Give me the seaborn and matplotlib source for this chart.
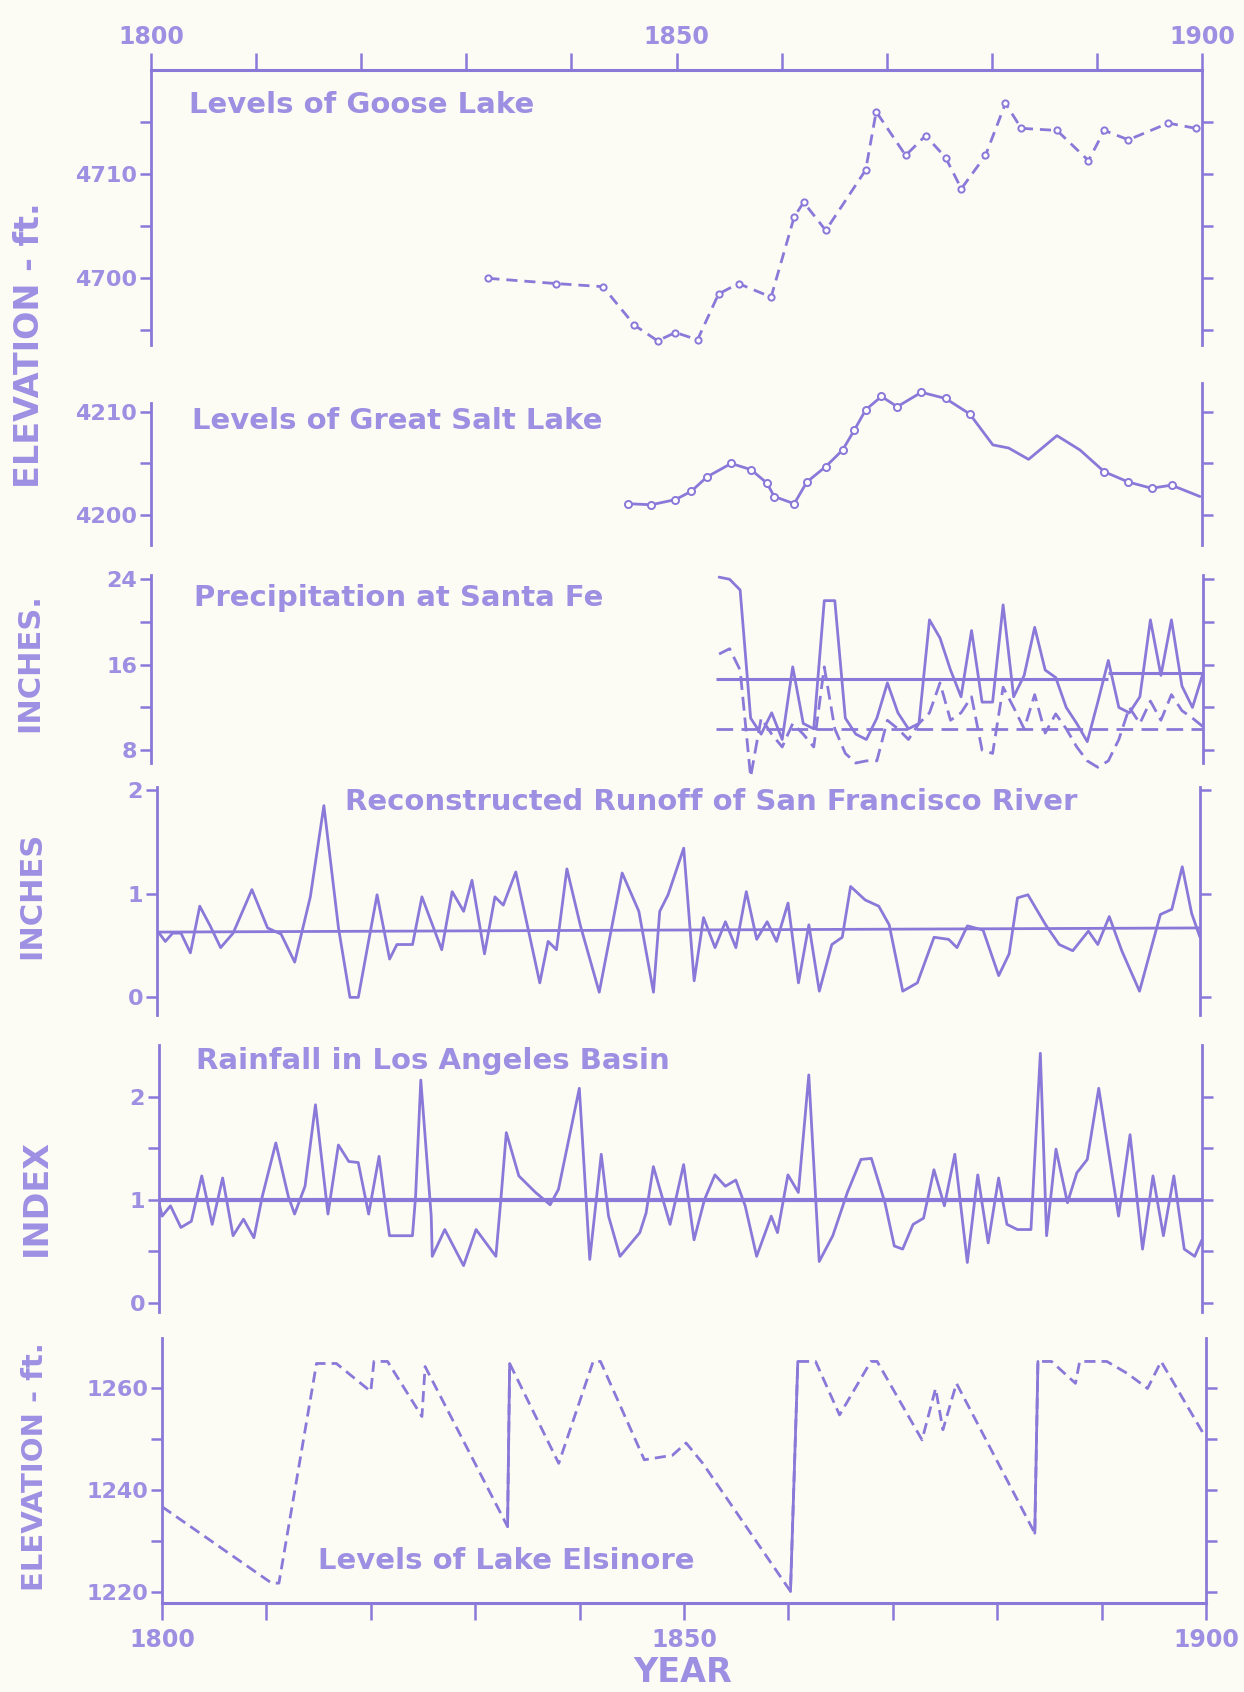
import matplotlib
matplotlib.use("Agg")
import matplotlib.pyplot as plt
import seaborn as sns

# Levels of Goose Lake (ft)
goose_years = [1832.1, 1838.5, 1843.0, 1846.0, 1848.2, 1849.9, 1852.0, 1854.0, 1855.9, 1859.0,
               1861.2, 1862.1, 1864.2, 1868.0, 1869.0, 1871.8, 1873.7, 1875.6, 1877.1, 1879.4,
               1881.3, 1882.8, 1886.2, 1889.2, 1890.7, 1893.0, 1896.8, 1899.4]
goose_levels = [4700.0, 4699.5, 4699.2, 4695.5, 4694.0, 4694.8, 4694.1, 4698.5, 4699.5, 4698.2,
                4705.9, 4707.3, 4704.6, 4710.4, 4716.0, 4711.8, 4713.7, 4711.6, 4708.6, 4711.8,
                4716.8, 4714.4, 4714.2, 4711.3, 4714.2, 4713.3, 4714.9, 4714.4]

# Levels of Great Salt Lake (ft)
gsl_years = [1845.4, 1847.6, 1849.9, 1851.4, 1852.9, 1855.2, 1857.1, 1858.6, 1859.3, 1861.2,
             1862.4, 1864.2, 1865.8, 1866.9, 1868.0, 1869.5, 1871.0, 1873.3, 1875.6, 1877.9,
             1880.1, 1881.6, 1883.5, 1886.2, 1888.4, 1890.7, 1893.0, 1895.2, 1897.1, 1899.8]
gsl_levels = [4201.1, 4201.0, 4201.5, 4202.3, 4203.7, 4205.0, 4204.4, 4203.1, 4201.8, 4201.1,
              4203.2, 4204.7, 4206.3, 4208.2, 4210.2, 4211.5, 4210.5, 4211.9, 4211.3, 4209.8,
              4206.8, 4206.5, 4205.4, 4207.7, 4206.3, 4204.2, 4203.2, 4202.6, 4202.9, 4201.8]

# Precipitation at Santa Fe (inches), two series
sf_years = list(range(1854, 1901))
sf_solid = [24.2, 24.0, 23.0, 11.0, 9.5, 11.5, 9.0, 15.8, 10.5, 10.0,
            22.0, 22.0, 11.0, 9.5, 9.0, 11.0, 14.3, 11.5, 10.0, 10.5,
            20.2, 18.5, 15.5, 13.0, 19.2, 12.5, 12.5, 21.6, 13.0, 15.0,
            19.5, 15.5, 14.8, 12.0, 10.5, 8.8, 12.5, 16.4, 12.0, 11.5,
            13.0, 20.2, 15.0, 20.2, 14.0, 12.0, 15.2]
sf_dashed = [17.0, 17.5, 15.5, 5.5, 11.0, 9.5, 8.3, 10.5, 9.5, 8.3,
             15.8, 10.0, 7.7, 6.8, 7.0, 7.0, 10.8, 10.0, 9.0, 10.5,
             11.5, 14.3, 10.8, 11.5, 13.0, 8.0, 7.7, 13.9, 12.0, 10.0,
             13.2, 9.6, 11.4, 10.0, 8.3, 7.0, 6.4, 7.0, 9.0, 12.0,
             10.5, 12.6, 10.8, 13.2, 11.7, 11.0, 10.2]
sf_mean_solid = [14.7, 15.2]
sf_mean_solid_start = [1853.7, 1891.0]
sf_mean_solid_end = [1891.0, 1900.0]
sf_mean_dashed = 10.0

# Reconstructed runoff of San Francisco River (inches)
runoff_years = [1800.2, 1800.8, 1801.5, 1802.3, 1803.2, 1804.1, 1805.1, 1806.1, 1807.3, 1809.1,
                1810.6, 1811.9, 1813.2, 1814.7, 1816.0, 1817.4, 1818.5, 1819.3, 1821.1, 1822.3,
                1823.0, 1824.5, 1825.4, 1827.3, 1828.3, 1829.4, 1830.2, 1831.4, 1832.4, 1833.2,
                1834.4, 1836.7, 1837.5, 1838.3, 1839.3, 1840.6, 1842.4, 1844.6, 1846.2, 1847.6,
                1848.2, 1849.0, 1850.5, 1851.5, 1852.4, 1853.5, 1854.5, 1855.5, 1856.5, 1857.5,
                1858.5, 1859.4, 1860.5, 1861.5, 1862.5, 1863.5, 1864.7, 1865.7, 1866.5, 1867.9,
                1869.2, 1870.2, 1871.5, 1872.9, 1874.5, 1875.9, 1876.7, 1877.7, 1879.2, 1880.7,
                1881.7, 1882.5, 1883.5, 1885.2, 1886.5, 1887.8, 1889.3, 1890.2, 1891.3, 1892.5,
                1894.2, 1896.2, 1897.3, 1898.3, 1899.2, 1900.0]
runoff_values = [0.62, 0.54, 0.62, 0.62, 0.43, 0.88, 0.69, 0.48, 0.62, 1.04,
                 0.67, 0.61, 0.34, 0.97, 1.85, 0.67, 0.00, 0.00, 0.99, 0.37,
                 0.51, 0.51, 0.97, 0.46, 1.02, 0.83, 1.13, 0.42, 0.97, 0.89,
                 1.21, 0.14, 0.54, 0.46, 1.24, 0.69, 0.05, 1.20, 0.83, 0.05,
                 0.83, 0.99, 1.44, 0.16, 0.77, 0.48, 0.73, 0.48, 1.02, 0.56,
                 0.73, 0.54, 0.91, 0.14, 0.70, 0.06, 0.51, 0.58, 1.07, 0.94,
                 0.88, 0.70, 0.06, 0.14, 0.58, 0.56, 0.48, 0.69, 0.65, 0.21,
                 0.42, 0.96, 0.99, 0.70, 0.51, 0.45, 0.64, 0.51, 0.78, 0.45,
                 0.06, 0.80, 0.85, 1.26, 0.81, 0.58]
runoff_mean_years = [1800, 1900]
runoff_mean_values = [0.63, 0.67]

# Rainfall index, Los Angeles Basin
rain_years = [1800.0, 1800.3, 1801.1, 1802.1, 1803.1, 1804.1, 1805.1, 1806.1, 1807.1, 1808.1,
              1809.1, 1809.9, 1811.2, 1812.4, 1813.0, 1814.0, 1815.0, 1816.2, 1817.2, 1818.2,
              1819.1, 1820.1, 1821.1, 1821.8, 1822.1, 1824.3, 1824.6, 1825.1, 1826.1, 1826.2,
              1827.4, 1829.2, 1830.4, 1832.3, 1832.8, 1833.3, 1834.5, 1836.1, 1837.5, 1838.3,
              1840.3, 1841.3, 1842.4, 1843.1, 1844.2, 1846.1, 1846.7, 1847.4, 1849.0, 1850.3,
              1851.3, 1852.3, 1853.3, 1854.3, 1855.3, 1856.2, 1857.3, 1858.7, 1859.3, 1860.3,
              1861.3, 1862.3, 1863.3, 1864.6, 1866.0, 1867.3, 1868.3, 1869.6, 1870.5, 1871.3,
              1872.3, 1873.3, 1874.3, 1875.3, 1876.3, 1877.5, 1878.5, 1879.5, 1880.5, 1881.3,
              1882.3, 1883.6, 1884.5, 1885.1, 1886.0, 1887.1, 1888.0, 1889.0, 1890.1, 1892.0,
              1893.1, 1894.3, 1895.3, 1896.3, 1897.3, 1898.3, 1899.3, 1900.0]
rain_values = [0.97, 0.84, 0.94, 0.73, 0.79, 1.23, 0.76, 1.21, 0.65, 0.81,
               0.63, 1.03, 1.55, 1.03, 0.86, 1.13, 1.92, 0.86, 1.53, 1.37,
               1.36, 0.86, 1.42, 0.87, 0.65, 0.65, 1.03, 2.16, 0.84, 0.45,
               0.71, 0.36, 0.71, 0.45, 1.03, 1.65, 1.23, 1.07, 0.95, 1.10,
               2.08, 0.42, 1.44, 0.84, 0.45, 0.68, 0.87, 1.32, 0.76, 1.34,
               0.61, 1.00, 1.24, 1.13, 1.19, 0.94, 0.45, 0.84, 0.68, 1.24,
               1.07, 2.21, 0.40, 0.65, 1.07, 1.39, 1.40, 0.97, 0.55, 0.52,
               0.76, 0.82, 1.29, 0.94, 1.44, 0.39, 1.24, 0.58, 1.21, 0.76,
               0.71, 0.71, 2.42, 0.65, 1.49, 0.97, 1.26, 1.39, 2.08, 0.84,
               1.63, 0.52, 1.23, 0.65, 1.23, 0.52, 0.45, 0.61]
rain_mean = 1.0

# Levels of Lake Elsinore (ft)
els_years = [1800.0, 1810.5, 1811.2, 1814.8, 1816.7, 1820.0, 1820.3, 1821.6, 1824.9, 1825.2,
             1833.1, 1833.3, 1838.0, 1841.3, 1842.0, 1846.2, 1848.9, 1850.2, 1851.8, 1860.2,
             1860.9, 1862.6, 1864.9, 1867.9, 1868.5, 1872.8, 1874.1, 1874.8, 1876.1, 1883.6,
             1883.9, 1885.2, 1887.5, 1887.9, 1890.5, 1892.5, 1894.4, 1895.7, 1899.7]
els_levels = [1236.7, 1221.7, 1221.7, 1264.8, 1264.8, 1259.3, 1265.2, 1265.2, 1254.4, 1264.2,
              1232.8, 1264.8, 1245.2, 1265.2, 1265.2, 1245.9, 1246.8, 1249.2, 1245.2, 1220.1,
              1265.2, 1265.2, 1254.7, 1265.2, 1265.2, 1249.8, 1259.9, 1251.8, 1260.9, 1231.5,
              1265.2, 1265.2, 1260.9, 1265.2, 1265.2, 1262.8, 1259.9, 1265.2, 1251.2]

sns.set_theme(style="white")
plt.rcParams['font.family'] = ['DejaVu Sans']

purple = "#8a79d9"
text_purple = "#9d8fe2"
bg = "#fcfcf4"

W, H = 1244, 1692
fig = plt.figure(figsize=(12.44, 16.92), dpi=100, facecolor=bg)


def panel(left, right, top, bottom):
    ax = fig.add_axes([left / W, 1 - bottom / H, (right - left) / W, (bottom - top) / H])
    ax.set_facecolor("none")
    ax.set_xlim(1800, 1900)
    for s in ax.spines.values():
        s.set_visible(False)
    for s in ["left", "right"]:
        ax.spines[s].set_visible(True)
        ax.spines[s].set_color(purple)
        ax.spines[s].set_linewidth(2)
    ax.set_xticks([])
    ax.set_xlabel("")
    ax.set_ylabel("")
    return ax


def yticks(ax, ylim, major, minor):
    ax.set_ylim(*ylim)
    ax.set_yticks(major)
    ax.set_yticks(minor, minor=True)
    ax.yaxis.set_ticks_position("both")
    ax.tick_params(axis="y", which="both", direction="out", length=8, width=1.8,
                   color=purple, labelcolor=text_purple, labelsize=16, pad=2,
                   left=True, right=True, labelleft=True, labelright=False)
    for lab in ax.get_yticklabels():
        lab.set_fontweight("bold")


def xticks(ax, where, pad):
    ax.spines[where].set_visible(True)
    ax.spines[where].set_color(purple)
    ax.spines[where].set_linewidth(2.2)
    ax.xaxis.set_ticks_position(where)
    ax.set_xticks([1800, 1850, 1900])
    ax.set_xticklabels(["1800", "1850", "1900"], fontweight="bold")
    ax.set_xticks(range(1810, 1900, 10), minor=True)
    ax.tick_params(axis="x", which="both", direction="out", length=12, width=1.8,
                   color=purple, labelcolor=text_purple, labelsize=17, pad=pad)


def title(ax, x, y, s):
    ax.text(x, y, s, transform=ax.transAxes, color=text_purple, fontsize=21,
            fontweight="bold", va="center", ha="left")


line_kw = dict(color=purple, linewidth=2, estimator=None, sort=False, legend=False)

# 1. Goose Lake
ax1 = panel(151, 1202, 70, 345)
yticks(ax1, (4693.6, 4720), [4700, 4710], [4695, 4705, 4715])
xticks(ax1, "top", 3)
sns.lineplot(x=goose_years, y=goose_levels, ax=ax1, linestyle=(0, (4, 2.5)), marker="o",
             markersize=4.5, markerfacecolor="white", markeredgecolor=purple, markeredgewidth=1.4,
             **line_kw)
title(ax1, 0.036, 0.873, "Levels of Goose Lake")

# 2. Great Salt Lake
ax2 = panel(151, 1202, 383, 545)
yticks(ax2, (4197.1, 4212.8), [4200, 4210], [4205])
ax2.spines["left"].set_bounds(4197.1, 4210.9)
sns.lineplot(x=gsl_years, y=gsl_levels, ax=ax2, **line_kw)
gsl_dot_x = [yr for yr in gsl_years if yr < 1878 or 1890 < yr < 1898]
gsl_dot_y = [lv for yr, lv in zip(gsl_years, gsl_levels) if yr < 1878 or 1890 < yr < 1898]
sns.scatterplot(x=gsl_dot_x, y=gsl_dot_y, ax=ax2, s=26, facecolor="white",
                edgecolor=purple, linewidth=1.4, zorder=3, legend=False)
title(ax2, 0.039, 0.765, "Levels of Great Salt Lake")

# 3. Santa Fe precipitation
ax3 = panel(151, 1203, 575, 763)
yticks(ax3, (6.8, 24.4), [8, 16, 24], [12, 20])
sns.lineplot(x=sf_years, y=sf_solid, ax=ax3, **line_kw)
sns.lineplot(x=sf_years, y=sf_dashed, ax=ax3, linestyle=(0, (5, 2.5)), **line_kw)
ax3.hlines(sf_mean_solid, sf_mean_solid_start, sf_mean_solid_end, color=purple, linewidth=2.2)
ax3.hlines(sf_mean_dashed, sf_years[0] - 0.3, 1900, color=purple, linewidth=2,
           linestyles=(0, (6, 3)))
for ln in ax3.lines + ax3.collections:
    ln.set_clip_on(False)
title(ax3, 0.041, 0.878, "Precipitation at Santa Fe")

# 4. Runoff
ax4 = panel(157, 1200, 787, 1015)
yticks(ax4, (-0.17, 2.03), [0, 1, 2], [])
sns.lineplot(x=runoff_years, y=runoff_values, ax=ax4, **line_kw)
sns.lineplot(x=runoff_mean_years, y=runoff_mean_values, ax=ax4, **line_kw)
title(ax4, 0.180, 0.934, "Reconstructed Runoff of San Francisco River")

# 5. Los Angeles rainfall
ax5 = panel(159, 1202, 1045, 1312)
yticks(ax5, (-0.09, 2.5), [0, 1, 2], [0.5, 1.5])
sns.lineplot(x=rain_years, y=rain_values, ax=ax5, **line_kw)
ax5.axhline(rain_mean, color=purple, linewidth=3)
title(ax5, 0.035, 0.94, "Rainfall in Los Angeles Basin")

# 6. Lake Elsinore
ax6 = panel(162, 1206, 1338, 1603)
yticks(ax6, (1217.8, 1269.8), [1220, 1240, 1260], [1230, 1250])
xticks(ax6, "bottom", 6)
sns.lineplot(x=els_years, y=els_levels, ax=ax6, linestyle=(0, (4, 2.2)), **line_kw)
# steep recoveries are drawn solid
for i in range(len(els_years) - 1):
    dx = els_years[i + 1] - els_years[i]
    dy = els_levels[i + 1] - els_levels[i]
    if dy / dx > 40:
        ax6.plot(els_years[i:i + 2], els_levels[i:i + 2], color=purple, linewidth=2)
title(ax6, 0.149, 0.158, "Levels of Lake Elsinore")

# axis titles
ylab = dict(color=text_purple, fontweight="bold", rotation=90, ha="center", va="center")
fig.text(30 / W, 1 - 345 / H, "ELEVATION - ft.", fontsize=24, **ylab)
fig.text(30 / W, 1 - 663 / H, "INCHES.", fontsize=22, **ylab)
fig.text(32 / W, 1 - 895 / H, "INCHES", fontsize=22, **ylab)
fig.text(36 / W, 1 - 1198 / H, "INDEX", fontsize=24, **ylab)
fig.text(35 / W, 1 - 1467 / H, "ELEVATION - ft.", fontsize=21, **ylab)
fig.text(683 / W, 1 - 1672 / H, "YEAR", color=text_purple, fontsize=24, fontweight="bold",
         ha="center", va="center")

fig.savefig("out.png", dpi=100, facecolor=bg)
